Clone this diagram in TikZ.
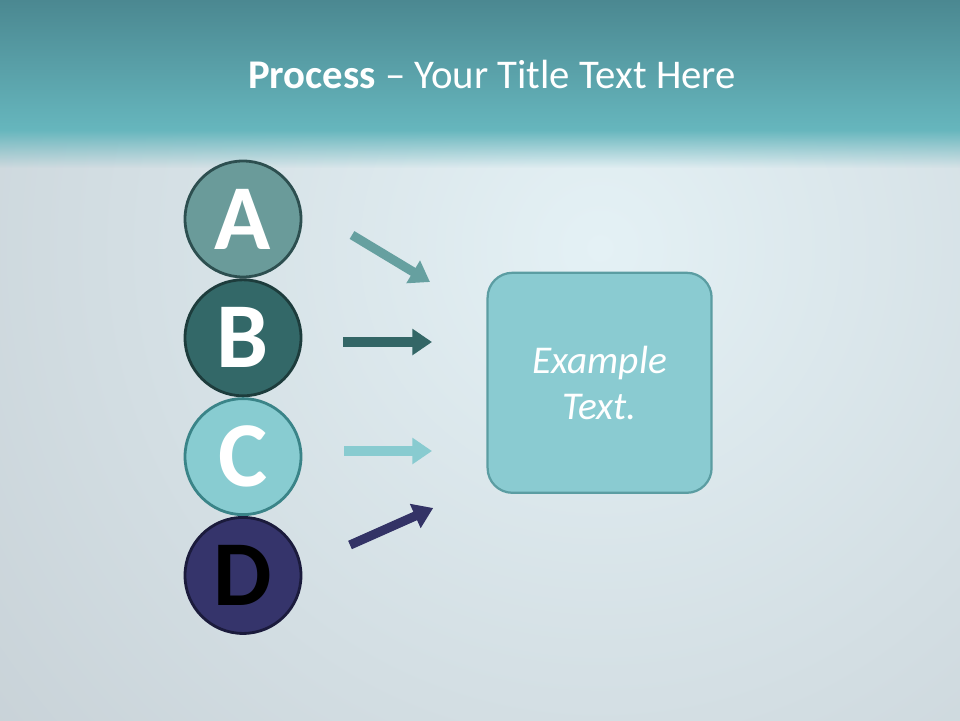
\documentclass[tikz,border=0pt]{standalone}
\usepackage{fontspec}
\setmainfont{Carlito}
\usepackage{tikz}
\usetikzlibrary{arrows.meta, fadings, positioning}
\definecolor{bandtop}{HTML}{4B8891}
\definecolor{bandbot}{HTML}{66B6BD}
\definecolor{bgglow}{HTML}{E4F1F5}
\definecolor{bgbase}{HTML}{C2CBD1}
\definecolor{fillA}{HTML}{6A9B9A}
\definecolor{lineA}{HTML}{2D4F50}
\definecolor{fillB}{HTML}{336868}
\definecolor{lineB}{HTML}{1D3C3C}
\definecolor{fillC}{HTML}{88CCD1}
\definecolor{lineC}{HTML}{3A8488}
\definecolor{fillD}{HTML}{35346B}
\definecolor{lineD}{HTML}{1B1B3C}
\definecolor{arrA}{HTML}{66A0A0}
\definecolor{arrB}{HTML}{336666}
\definecolor{arrC}{HTML}{88CBD0}
\definecolor{arrD}{HTML}{333366}
\definecolor{boxfill}{HTML}{8ACBD1}
\definecolor{boxline}{HTML}{5B9DA2}

\begin{document}
\begin{tikzpicture}[
		letter/.style={circle, minimum size=2.9cm, inner sep=0pt, line width=2pt, font=\fontsize{66}{66}\selectfont\bfseries},
		steparrow/.style={line width=6.5pt, -{Triangle[width=18pt, length=14pt]}},
		textbox/.style={draw=boxline, fill=boxfill, line width=1.6pt, rounded corners=0.62cm, minimum width=5.6cm, minimum height=5.5cm, align=center, text=white, font=\fontsize{28}{33}\selectfont\itshape}
	]
		\useasboundingbox (0,0) rectangle (24,18);
		% background
		\begin{scope}
			\clip (0,0) rectangle (24,18);
			\shade[inner color=bgglow, outer color=bgbase] (15,11.8) circle (24cm);
		\end{scope}
		\shade[top color=bandtop, bottom color=bandbot] (0,14.75) rectangle (24,18);
		\fill[bandbot, path fading=south] (0,13.8) rectangle (24,14.76);
		% title
		\node (title) at (12.3,16.13) {\fontsize{29}{34}\selectfont\color{white}\textbf{Process} -- Your Title Text Here};
		% circles
		\node[letter, draw=lineA, fill=fillA, text=white] (A) at (6.075,12.525) {A};
		\node[letter, draw=lineB, fill=fillB, text=white, below=0pt of A] (B) {B};
		\node[letter, draw=lineC, fill=fillC, text=white, below=0pt of B] (C) {C};
		\node[letter, draw=lineD, fill=fillD, text=black, below=0pt of C] (D) {D};
		% box
		\node[textbox] (box) at (14.99,8.43) {Example\\Text.};
		% arrows
		\coordinate (a1) at (8.8,12.125);   \coordinate (a2) at (10.75,10.95);
		\coordinate (b1) at (8.575,9.45);   \coordinate (b2) at (10.8,9.45);
		\coordinate (c1) at (8.6,6.725);    \coordinate (c2) at (10.8,6.725);
		\coordinate (d1) at (8.75,4.375);   \coordinate (d2) at (10.83,5.3);
		\foreach \s/\c in {a/arrA, b/arrB, c/arrC, d/arrD}{
			\draw[steparrow, \c] (\s1) -- (\s2);
		}
	\end{tikzpicture}
\end{document}
